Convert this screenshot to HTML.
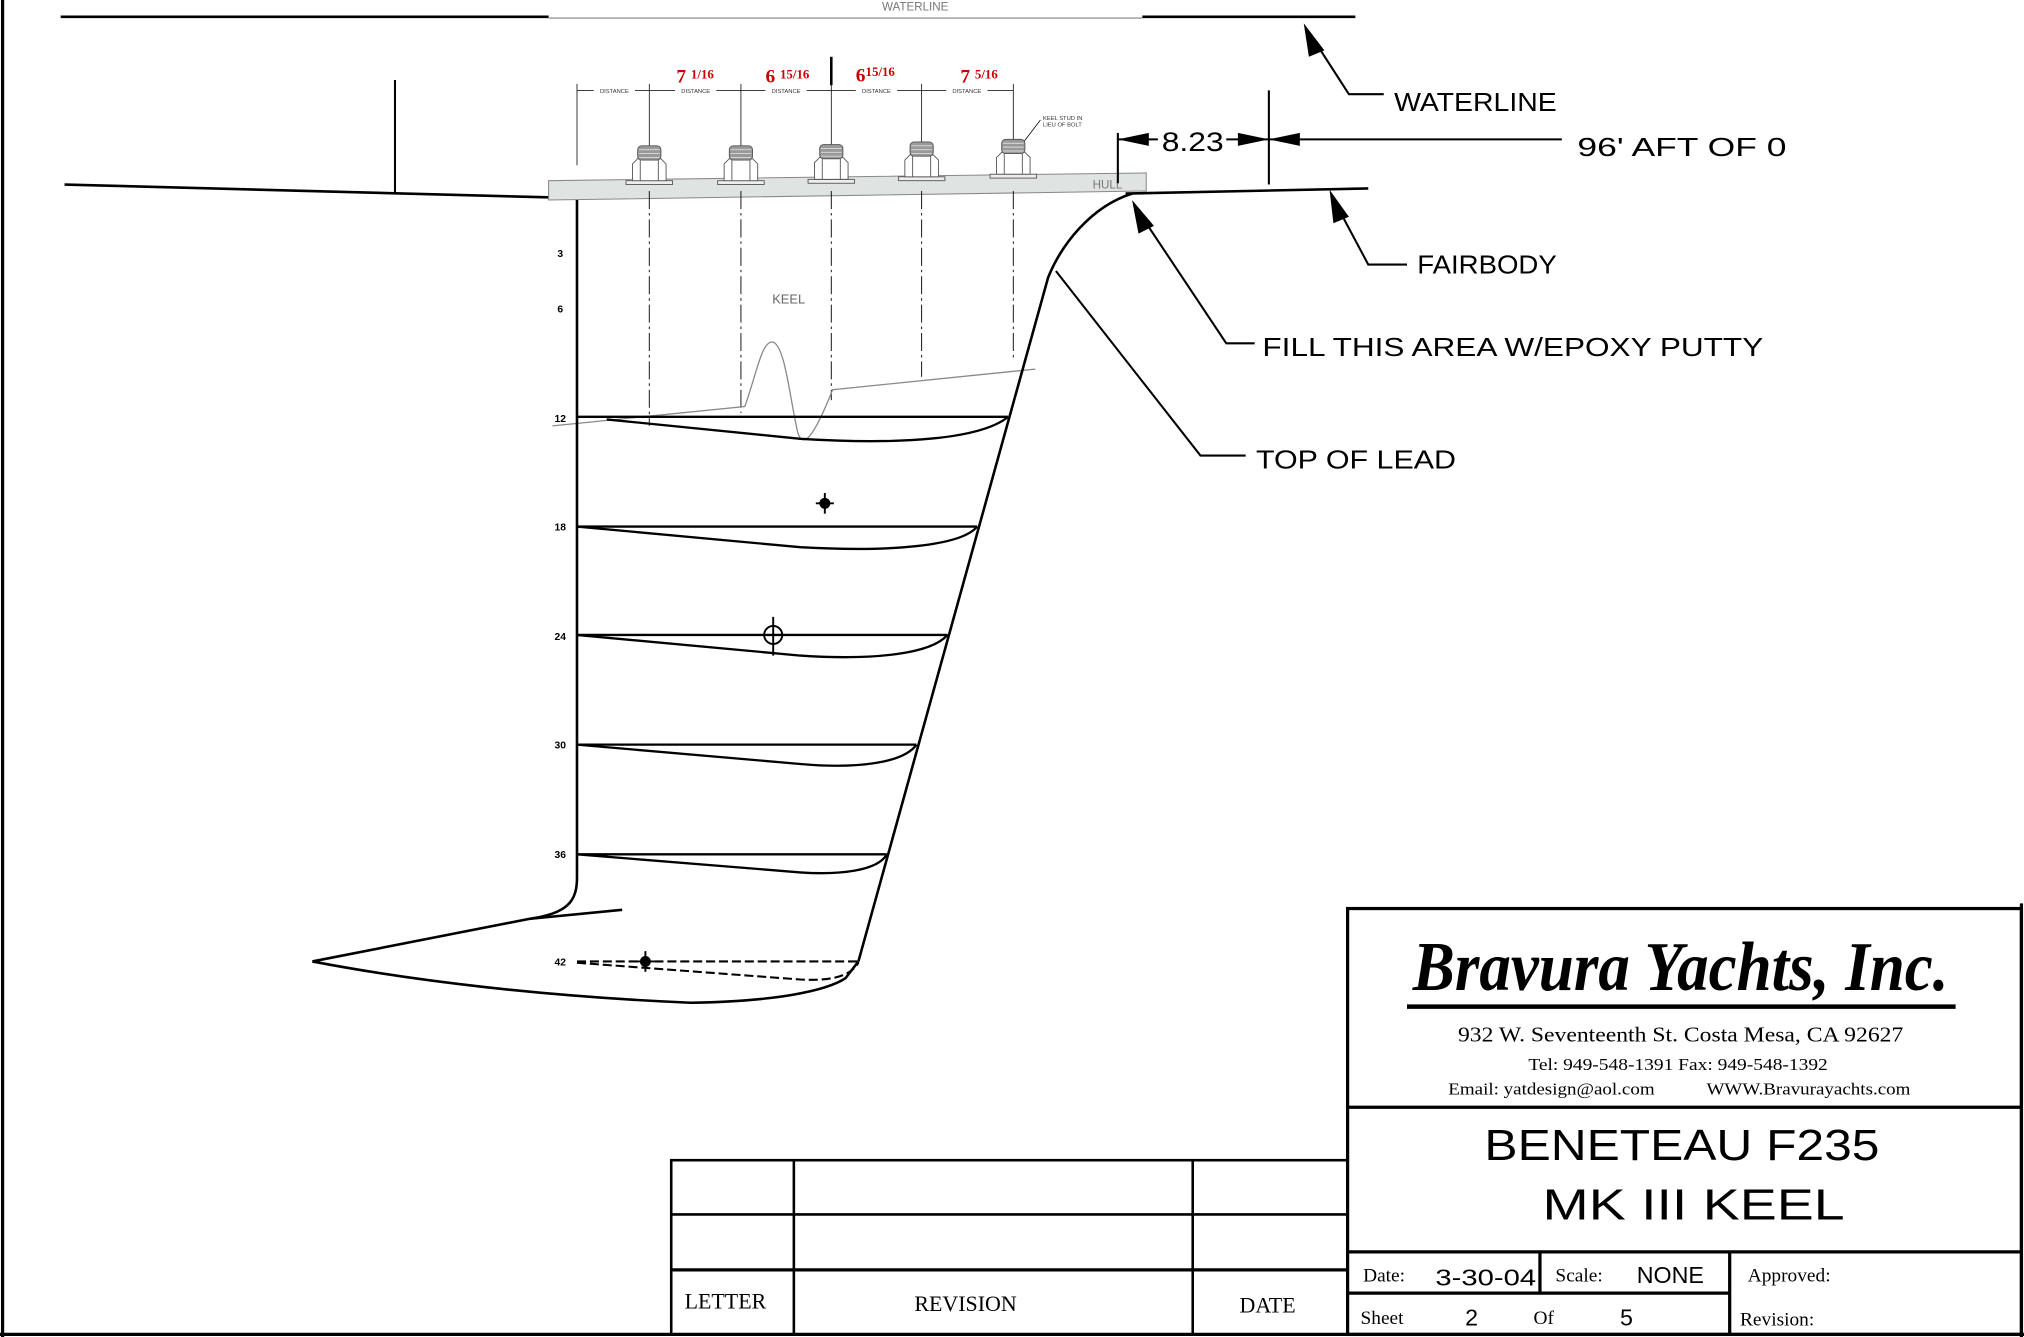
<!DOCTYPE html>
<html><head><meta charset="utf-8"><style>
html,body{margin:0;padding:0;background:#fff;}
svg{display:block;}
text{font-family:"Liberation Sans",sans-serif;}
text.s, .s text{font-family:"Liberation Serif",serif;}
</style></head><body>
<svg width="2024" height="1337" viewBox="0 0 1568 1036" preserveAspectRatio="none" xmlns="http://www.w3.org/2000/svg">
<rect width="1568" height="1036" fill="#fff"/>
<!-- border -->
<line x1="2" y1="0" x2="2" y2="1036" stroke="#000" stroke-width="2.5"/>
<line x1="0" y1="1034" x2="1568" y2="1034" stroke="#000" stroke-width="2.5"/>
<line x1="1566" y1="700" x2="1566" y2="1036" stroke="#000" stroke-width="2.5"/>

<!-- waterline -->
<line x1="47" y1="13" x2="425" y2="13" stroke="#000" stroke-width="2"/>
<line x1="425" y1="14" x2="885" y2="14" stroke="#999" stroke-width="1"/>
<line x1="885" y1="13" x2="1050" y2="13" stroke="#000" stroke-width="2"/>
<text x="709" y="8" font-size="9" fill="#777" text-anchor="middle">WATERLINE</text>

<line x1="306" y1="62" x2="306" y2="150" stroke="#000" stroke-width="1.6"/>
<line x1="50" y1="143" x2="428" y2="153" stroke="#000" stroke-width="2"/>

<!-- hull band -->
<polygon points="425,140 888,134 888,148 425,155" fill="#dfe3e2" stroke="#888" stroke-width="0.8"/>
<text x="858" y="146" font-size="9" fill="#777" text-anchor="middle">HULL</text>
<line x1="872" y1="150" x2="1060" y2="146" stroke="#000" stroke-width="2"/>

<!-- dimension line with DISTANCE -->
<g stroke="#000" stroke-width="0.6">
<line x1="447" y1="65" x2="447" y2="128"/>
<line x1="447" y1="70" x2="785" y2="70"/>
<line x1="503" y1="65" x2="503" y2="118"/>
<line x1="574" y1="65" x2="574" y2="118"/>
<line x1="644" y1="65" x2="644" y2="118"/>
<line x1="714" y1="65" x2="714" y2="118"/>
<line x1="785" y1="65" x2="785" y2="118"/>
</g>
<line x1="644" y1="44" x2="644" y2="66" stroke="#000" stroke-width="2"/>
<g font-size="4.5" fill="#333" text-anchor="middle">
<rect x="460" y="67" width="32" height="6" fill="#fff"/><text x="476" y="72">DISTANCE</text>
<rect x="523" y="67" width="32" height="6" fill="#fff"/><text x="539" y="72">DISTANCE</text>
<rect x="593" y="67" width="32" height="6" fill="#fff"/><text x="609" y="72">DISTANCE</text>
<rect x="663" y="67" width="32" height="6" fill="#fff"/><text x="679" y="72">DISTANCE</text>
<rect x="733" y="67" width="32" height="6" fill="#fff"/><text x="749" y="72">DISTANCE</text>
</g>
<g class="s" fill="#c00" font-weight="bold">
<text x="524" y="64" font-size="15">7 <tspan font-size="10" dy="-3">1/16</tspan></text>
<text x="593" y="64" font-size="15">6 <tspan font-size="10" dy="-3">15/16</tspan></text>
<text x="663" y="63" font-size="15">6<tspan font-size="10" dy="-4">15/16</tspan></text>
<text x="744" y="64" font-size="15">7 <tspan font-size="10" dy="-3">5/16</tspan></text>
</g>
<text x="808" y="93" font-size="4.5" fill="#333">KEEL STUD IN</text>
<text x="808" y="98" font-size="4.5" fill="#333">LIEU OF BOLT</text>
<line x1="806" y1="93" x2="790" y2="114" stroke="#000" stroke-width="0.6"/>

<!-- bolts -->
<defs>
<g id="bolt" stroke="#555" stroke-width="0.7">
<rect x="-18" y="-2" width="36" height="3" fill="#eee"/>
<path d="M-13,-2 L-13,-15 L-9,-19 L9,-19 L13,-15 L13,-2Z" fill="#fff"/>
<line x1="-7" y1="-18" x2="-7" y2="-2"/><line x1="7" y1="-18" x2="7" y2="-2"/>
<rect x="-9" y="-29" width="18" height="11" rx="3" fill="#999"/>
<line x1="-8" y1="-26" x2="8" y2="-26" stroke="#ddd"/><line x1="-8" y1="-23" x2="8" y2="-23" stroke="#ddd"/><line x1="-8" y1="-20" x2="8" y2="-20" stroke="#ddd"/>
</g>
</defs>
<use href="#bolt" x="503" y="142"/>
<use href="#bolt" x="574" y="142"/>
<use href="#bolt" x="644" y="141"/>
<use href="#bolt" x="714" y="139"/>
<use href="#bolt" x="785" y="137"/>

<!-- dash-dot center lines -->
<g stroke="#000" stroke-width="0.7" stroke-dasharray="14,3,2,3">
<line x1="503" y1="148" x2="503" y2="330"/>
<line x1="574" y1="148" x2="574" y2="320"/>
<line x1="644" y1="148" x2="644" y2="310"/>
<line x1="714" y1="148" x2="714" y2="292"/>
<line x1="785" y1="148" x2="785" y2="278"/>
</g>
<text x="611" y="235" font-size="10" fill="#666" text-anchor="middle">KEEL</text>

<!-- gray guide with bump -->
<path d="M428,330 L577,315 C586,290 590,265 598,265 C608,265 612,310 618,335 C622,348 630,340 645,302 L802,286" fill="none" stroke="#888" stroke-width="1"/>

<!-- keel outline -->
<g fill="none" stroke="#000" stroke-width="2">
<path d="M447,155 L447,680 C447,698 440,708 410,712"/>
<path d="M242,745 L410,712 L482,705"/>
<path d="M242,745 C320,760 420,772 535,777 C600,776 640,768 655,758 L665,745"/>
<path d="M877,150 C845,160 822,190 812,215 L665,745"/>
</g>
<!-- sections -->
<g fill="none" stroke="#000" stroke-width="1.8">
<line x1="447" y1="323" x2="781" y2="323"/>
<path d="M470,325 L620,340 C700,345 760,340 781,323"/>
<line x1="447" y1="408" x2="757" y2="408"/>
<path d="M447,408 L620,424 C690,428 745,423 757,408"/>
<line x1="447" y1="492" x2="734" y2="492"/>
<path d="M447,492 L620,508 C680,512 722,506 734,492"/>
<line x1="447" y1="577" x2="710" y2="577"/>
<path d="M447,577 L620,592 C665,596 700,591 710,577"/>
<line x1="447" y1="662" x2="687" y2="662"/>
<path d="M447,662 L620,676 C650,678 680,675 687,662"/>
</g>
<g fill="none" stroke="#000" stroke-width="1.6" stroke-dasharray="7,3">
<line x1="447" y1="745" x2="665" y2="745"/>
<path d="M447,746 L620,759 C640,760 658,758 665,746"/>
</g>
<!-- markers -->
<g stroke="#000" stroke-width="1.5" fill="none">
<circle cx="639" cy="390" r="3.5" fill="#000"/><line x1="632" y1="390" x2="646" y2="390"/><line x1="639" y1="382" x2="639" y2="398"/>
<circle cx="599" cy="492" r="7"/><line x1="599" y1="478" x2="599" y2="508"/>
<circle cx="500" cy="745" r="3.5" fill="#000"/><line x1="493" y1="745" x2="507" y2="745"/><line x1="500" y1="737" x2="500" y2="753"/>
</g>
<g font-size="8" font-weight="bold" text-anchor="middle">
<text x="434" y="199">3</text><text x="434" y="242">6</text>
<text x="434" y="327">12</text><text x="434" y="411">18</text>
<text x="434" y="496">24</text><text x="434" y="580">30</text>
<text x="434" y="665">36</text><text x="434" y="748">42</text>
</g>

<!-- 8.23 dimension -->
<g stroke="#000" stroke-width="1.6">
<line x1="866" y1="103" x2="866" y2="142"/>
<line x1="983" y1="70" x2="983" y2="143"/>
<line x1="866" y1="108" x2="897" y2="108"/>
<line x1="950" y1="108" x2="1210" y2="108"/>
</g>
<g fill="#000">
<polygon points="866,108 890,103 890,113"/>
<polygon points="983,108 959,103 959,113"/>
<polygon points="983,108 1007,103 1007,113"/>
</g>
<text x="924" y="117" font-size="21" text-anchor="middle" textLength="48" lengthAdjust="spacingAndGlyphs">8.23</text>
<text x="1222" y="121" font-size="20" textLength="162" lengthAdjust="spacingAndGlyphs">96' AFT OF 0</text>

<!-- leaders -->
<g stroke="#000" stroke-width="1.6" fill="none">
<polyline points="1016,28 1045,73 1072,73"/>
<polyline points="1036,160 1060,205 1090,205"/>
<polyline points="884,167 950,266 972,266"/>
<polyline points="818,210 930,353 965,353"/>
</g>
<g fill="#000">
<polygon points="1010,18 1026,39 1014,44"/>
<polygon points="1030,147 1045,168 1033,173"/>
<polygon points="877,155 894,175 882,181"/>
</g>
<g font-size="20">
<text x="1080" y="86" textLength="126" lengthAdjust="spacingAndGlyphs">WATERLINE</text>
<text x="1098" y="212" textLength="108" lengthAdjust="spacingAndGlyphs">FAIRBODY</text>
<text x="978" y="276" textLength="388" lengthAdjust="spacingAndGlyphs">FILL THIS AREA W/EPOXY PUTTY</text>
<text x="973" y="363" textLength="155" lengthAdjust="spacingAndGlyphs">TOP OF LEAD</text>
</g>

<!-- revision table -->
<g stroke="#000" stroke-width="2" fill="none">
<rect x="520" y="899" width="524" height="135"/>
<line x1="520" y1="941" x2="1044" y2="941"/>
<line x1="520" y1="984" x2="1044" y2="984" stroke-width="2.5"/>
<line x1="615" y1="899" x2="615" y2="1034"/>
<line x1="924" y1="899" x2="924" y2="1034"/>
</g>
<g class="s" font-size="17" text-anchor="middle">
<text x="562" y="1014">LETTER</text>
<text x="748" y="1016">REVISION</text>
<text x="982" y="1017">DATE</text>
</g>

<!-- title block -->
<g stroke="#000" stroke-width="2.5" fill="none">
<rect x="1044" y="704" width="522" height="330"/>
<line x1="1044" y1="858" x2="1566" y2="858"/>
<line x1="1044" y1="970" x2="1566" y2="970"/>
<line x1="1044" y1="1002" x2="1340" y2="1002"/>
<line x1="1193" y1="970" x2="1193" y2="1002"/>
<line x1="1340" y1="970" x2="1340" y2="1034"/>
</g>
<text class="s" x="1302" y="767" font-size="54" font-style="italic" font-weight="bold" text-anchor="middle" textLength="415" lengthAdjust="spacingAndGlyphs">Bravura Yachts, Inc.</text>
<line x1="1090" y1="780" x2="1515" y2="780" stroke="#000" stroke-width="3.5"/>
<g class="s" text-anchor="middle">
<text x="1302" y="807" font-size="16" textLength="345" lengthAdjust="spacingAndGlyphs">932 W. Seventeenth St.  Costa Mesa, CA 92627</text>
<text x="1300" y="829" font-size="13" textLength="232" lengthAdjust="spacingAndGlyphs">Tel: 949-548-1391   Fax: 949-548-1392</text>
<text x="1301" y="848" font-size="13" textLength="358" lengthAdjust="spacingAndGlyphs" xml:space="preserve">Email: yatdesign@aol.com           WWW.Bravurayachts.com</text>
</g>
<g font-size="34" text-anchor="middle">
<text x="1303" y="899" textLength="306" lengthAdjust="spacingAndGlyphs">BENETEAU F235</text>
<text x="1312" y="945" textLength="234" lengthAdjust="spacingAndGlyphs">MK III KEEL</text>
</g>
<g class="s" font-size="15">
<text x="1056" y="993">Date:</text>
<text x="1205" y="993">Scale:</text>
<text x="1354" y="993">Approved:</text>
<text x="1054" y="1026">Sheet</text>
<text x="1188" y="1026">Of</text>
<text x="1348" y="1027">Revision:</text>
</g>
<g font-size="18">
<text x="1112" y="996" textLength="78" lengthAdjust="spacingAndGlyphs">3-30-04</text>
<text x="1268" y="994">NONE</text>
<text x="1135" y="1027">2</text>
<text x="1255" y="1027">5</text>
</g>
</svg>
</body></html>
